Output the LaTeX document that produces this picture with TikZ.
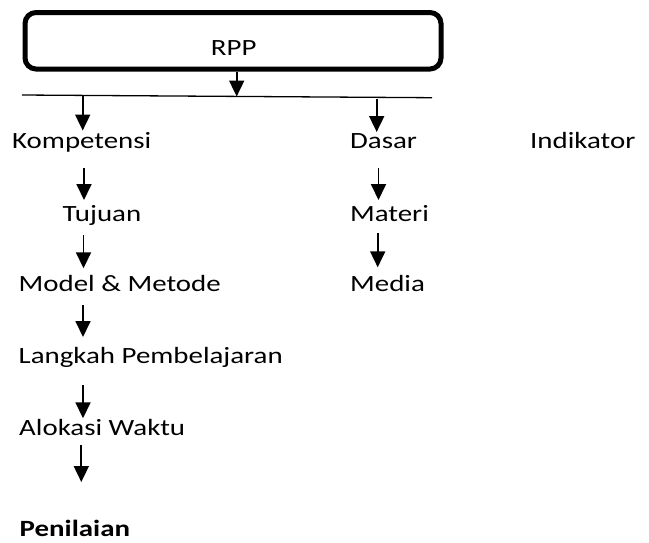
\documentclass[tikz,border=0pt]{standalone}
\usepackage{graphicx}
\usepackage{fontspec}
\setmainfont{Carlito}
\usetikzlibrary{arrows.meta}
\newcommand{\wtxt}[1]{\scalebox{1.24}[1]{\fontsize{23.3}{28}\selectfont #1}}
\tikzset{
  lbl/.style={inner sep=0pt, anchor=base west, font=\fontsize{23.3}{28}\selectfont},
  arr/.style={line width=1.8pt, -{Triangle[length=16pt,width=15pt]}},
  hline/.style={line width=1.3pt},
  mainbox/.style={draw, line width=5pt, rounded corners=11pt, minimum width=416pt, minimum height=56.5pt, inner sep=0pt}
}
\begin{document}
\begin{tikzpicture}[x=1pt,y=-1pt]
\useasboundingbox (0,0) rectangle (649,542);
\node[mainbox] (box) at (233,40.75) {};
\node[lbl] (rpp) at (210.7,55) {\wtxt{RPP}};
% horizontal line
\coordinate (hl1) at (22,95);
\coordinate (hl2) at (432,97.7);
\draw[hline] (hl1) -- (hl2);
% text nodes
\node[lbl] (kom) at (12,148.3) {\wtxt{Kompetensi}};
\node[lbl] (das) at (350,148.3) {\wtxt{Dasar}};
\node[lbl] (ind) at (530,148.3) {\wtxt{Indikator}};
\node[lbl] (tuj) at (62.5,221.7) {\wtxt{Tujuan}};
\node[lbl] (mat) at (350,221.7) {\wtxt{Materi}};
\node[lbl] (mod) at (18.5,291.7) {\wtxt{Model \& Metode}};
\node[lbl] (med) at (350,291.7) {\wtxt{Media}};
\node[lbl] (lan) at (18.5,363.3) {\wtxt{Langkah Pembelajaran}};
\node[lbl] (alo) at (19,435) {\wtxt{Alokasi Waktu}};
\node[lbl] (pen) at (19.5,536) {\wtxt{\bfseries Penilaian}};
% arrow endpoints
\coordinate (a0t) at (236.7,96.5);
\coordinate (a1s) at (82.7,96); \coordinate (a1t) at (82.7,130.5);
\coordinate (a2s) at (376.7,98.5); \coordinate (a2t) at (376.7,132);
\coordinate (a3s) at (84,168); \coordinate (a3t) at (84,200);
\coordinate (a4s) at (378.5,168); \coordinate (a4t) at (378.5,200);
\coordinate (a5s) at (83.5,235); \coordinate (a5t) at (83.5,268.3);
\coordinate (a6s) at (377.7,233.3); \coordinate (a6t) at (377.7,267.3);
\coordinate (a7s) at (83,305); \coordinate (a7t) at (83,337);
\coordinate (a8s) at (83,385); \coordinate (a8t) at (83,418.3);
\coordinate (a9s) at (81.3,445); \coordinate (a9t) at (81.3,482);
\draw[arr] (box.south -| a0t) -- (a0t);
\draw[arr] (a1s) -- (a1t);
\draw[arr] (a2s) -- (a2t);
\draw[arr] (a3s) -- (a3t);
\draw[arr] (a4s) -- (a4t);
\draw[arr] (a5s) -- (a5t);
\draw[arr] (a6s) -- (a6t);
\draw[arr] (a7s) -- (a7t);
\draw[arr] (a8s) -- (a8t);
\draw[arr] (a9s) -- (a9t);
\end{tikzpicture}
\end{document}
